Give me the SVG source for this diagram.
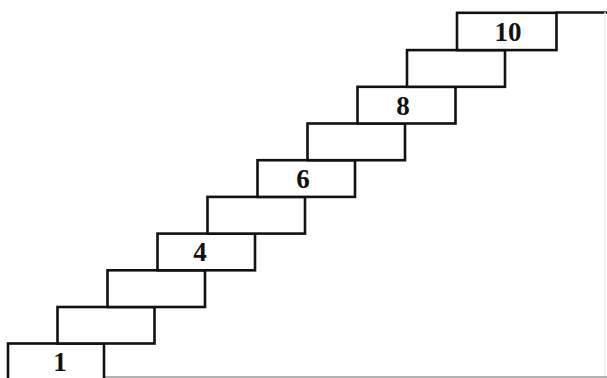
<svg xmlns="http://www.w3.org/2000/svg" width="607" height="378" viewBox="0 0 607 378">
<style>
.step{fill:#fff;stroke:#111;stroke-width:2.6}
.lbl{font-family:"Liberation Serif","Times New Roman",serif;font-weight:bold;font-size:27px;fill:#111;text-anchor:middle;dominant-baseline:central}
.wall{fill:none;stroke:#111;stroke-width:2.6}
.faint{fill:none;stroke:#999;stroke-width:1.5}
</style>
<rect width="607" height="378" fill="#fff"/>
<g id="walls">
<line class="wall" x1="556" y1="12.5" x2="607" y2="12.5"/>
<line x1="605" y1="12" x2="605" y2="378" stroke="#ececec" stroke-width="1.5"/>
<line class="faint" x1="105" y1="377" x2="607" y2="377"/>
</g>
<g id="step1"><rect class="step" x="8" y="343.5" width="96" height="38"/><text class="lbl" x="60" y="362">1</text></g>
<g id="step2"><rect class="step" x="57.5" y="307" width="97" height="36.5"/></g>
<g id="step3"><rect class="step" x="107.5" y="270.3" width="97.5" height="36.7"/></g>
<g id="step4"><rect class="step" x="157.5" y="233.6" width="97.5" height="36.7"/><text class="lbl" x="200" y="252">4</text></g>
<g id="step5"><rect class="step" x="207.5" y="196.9" width="97.5" height="36.7"/></g>
<g id="step6"><rect class="step" x="257.5" y="160.2" width="97.5" height="36.7"/><text class="lbl" x="303" y="179">6</text></g>
<g id="step7"><rect class="step" x="307.5" y="123.5" width="97.5" height="36.7"/></g>
<g id="step8"><rect class="step" x="357.5" y="86.8" width="98" height="36.7"/><text class="lbl" x="403" y="105.5">8</text></g>
<g id="step9"><rect class="step" x="407" y="50.1" width="98" height="36.7"/></g>
<g id="step10"><rect class="step" x="457" y="12.8" width="99.5" height="37.3"/><text class="lbl" x="508" y="31.5">10</text></g>
</svg>
